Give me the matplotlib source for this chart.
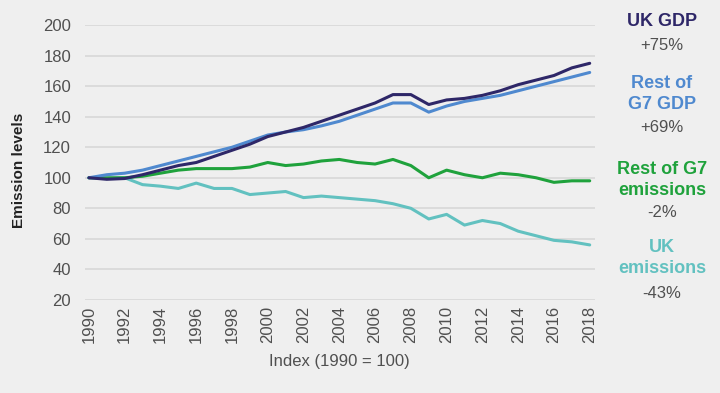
import matplotlib
matplotlib.use("Agg")
import matplotlib.pyplot as plt

years = list(range(1990, 2019))
uk_gdp = [100, 99, 99.5, 102, 105, 108, 110, 114, 118, 122, 127, 130, 133, 137, 141, 145,
          149, 154.5, 154.5, 148, 151, 152, 154, 157, 161, 164, 167, 172, 175]
g7_gdp = [100, 102, 103, 105, 108, 111, 114, 117, 120, 124, 128, 130, 131.5, 134, 137, 141,
          145, 149, 149, 143, 147, 150, 152, 154, 157, 160, 163, 166, 169]
g7_em = [100, 100, 100, 101, 103, 105, 106, 106, 106, 107, 110, 108, 109, 111, 112, 110,
         109, 112, 108, 100, 105, 102, 100, 103, 102, 100, 97, 98, 98]
uk_em = [100, 99.5, 100, 95.5, 94.5, 93, 96.5, 93, 93, 89, 90, 91, 87, 88, 87, 86,
         85, 83, 80, 73, 76, 69, 72, 70, 65, 62, 59, 58, 56]

xticks = list(range(1990, 2019, 2))
yticks = list(range(20, 201, 20))

c_uk_gdp = "#2e2768"
c_g7_gdp = "#4f89cf"
c_g7_em = "#1fa23c"
c_uk_em = "#62c1c0"
bg = "#efefef"
txt = "#505050"

plt.rcParams['font.family'] = ['Liberation Sans', 'DejaVu Sans']

fig = plt.figure(figsize=(7.2, 3.93), dpi=100, facecolor=bg)
ax = fig.add_axes([0.118, 0.237, 0.708, 0.699], facecolor=bg)

ax.plot(years, uk_em, color=c_uk_em, lw=2.2, solid_capstyle='round', zorder=3)
ax.plot(years, g7_em, color=c_g7_em, lw=2.2, solid_capstyle='round', zorder=3)
ax.plot(years, g7_gdp, color=c_g7_gdp, lw=2.2, solid_capstyle='round', zorder=3)
ax.plot(years, uk_gdp, color=c_uk_gdp, lw=2.2, solid_capstyle='round', zorder=4)

ax.set_xlim(1989.78, 2018.28)
ax.set_ylim(20, 200)
ax.set_yticks(yticks)
ax.set_xticks(xticks)
ax.set_xticklabels([str(x) for x in xticks], rotation=90)
ax.grid(axis='y', color='#d8d8d8', lw=1.2, zorder=0)
ax.grid(axis='x', visible=False)
for s in ax.spines.values():
    s.set_visible(False)
ax.tick_params(axis='both', length=0, labelsize=12, labelcolor=txt)
ax.tick_params(axis='y', pad=10)
ax.tick_params(axis='x', pad=4)

ax.set_ylabel("Emission levels", fontsize=11, fontweight='bold', color='#222222')
ax.yaxis.set_label_coords(-0.115, 0.47)
ax.set_xlabel("Index (1990 = 100)", fontsize=12, color=txt, labelpad=8)

labels = [
    ("UK GDP", c_uk_gdp, 22, "+75%", 45),
    ("Rest of\nG7 GDP", c_g7_gdp, 94, "+69%", 128),
    ("Rest of G7\nemissions", c_g7_em, 180, "-2%", 212),
    ("UK\nemissions", c_uk_em, 258, "-43%", 293),
]
for name, col, yc, pct, yp in labels:
    fig.text(662 / 720, 1 - yc / 393, name, ha='center', va='center', fontsize=13,
             fontweight='bold', color=col, linespacing=1.3)
    fig.text(662 / 720, 1 - yp / 393, pct, ha='center', va='center', fontsize=12, color=txt)

fig.savefig("out.png", dpi=100, facecolor=bg)
